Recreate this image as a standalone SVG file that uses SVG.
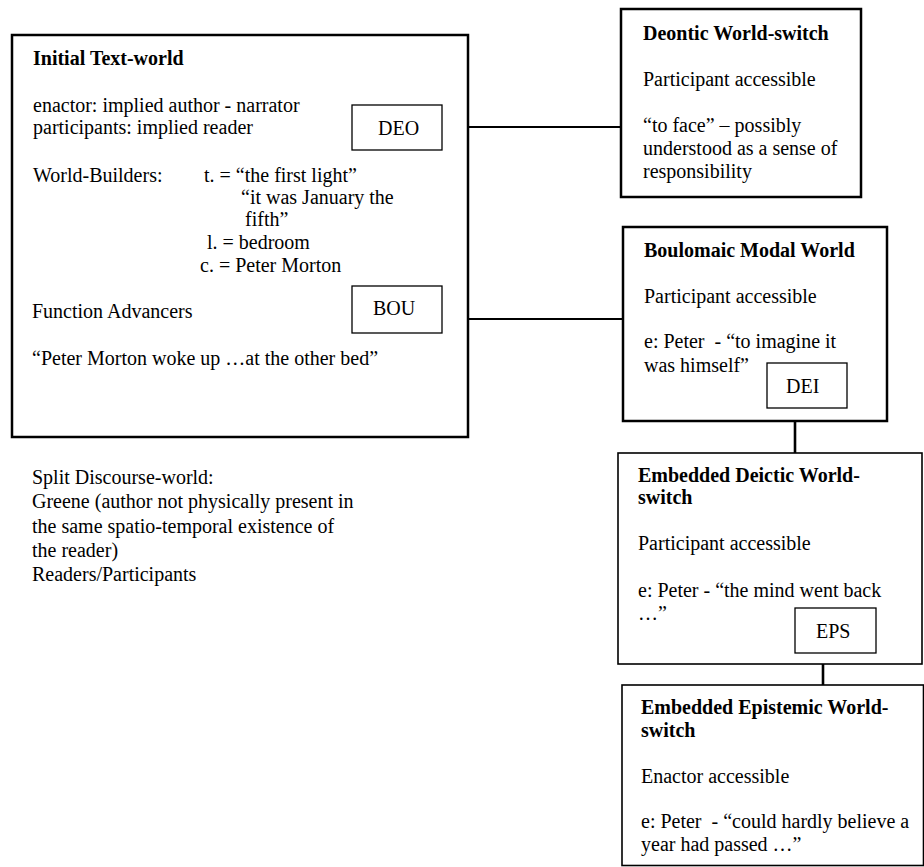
<svg xmlns="http://www.w3.org/2000/svg" width="924" height="867" viewBox="0 0 924 867">
  <style>
    text { font-family: "Liberation Serif", "Times New Roman", serif; font-size: 20px; fill: #000; }
    .b { font-weight: bold; }
    .world { fill: #fff; stroke: #000; stroke-width: 2.5; }
    .world-thin { fill: #fff; stroke: #000; stroke-width: 1.6; }
    .tag { fill: #fff; stroke: #000; stroke-width: 1.3; }
    .link { stroke: #000; stroke-width: 2; fill: none; }
    .link-v { stroke: #000; stroke-width: 2.6; fill: none; }
  </style>
  <rect width="924" height="867" fill="#fff"/>

  <!-- connectors between worlds -->
  <g id="connectors">
    <line class="link" x1="442" y1="127" x2="621" y2="127"/>
    <line class="link" x1="442" y1="319" x2="623" y2="319"/>
    <line class="link-v" x1="795" y1="408" x2="795" y2="453"/>
    <line class="link-v" x1="823" y1="653" x2="823" y2="685"/>
  </g>

  <!-- initial text-world -->
  <g id="initial-text-world">
    <rect class="world" x="12" y="35" width="456" height="402"/>
    <text class="b" x="33" y="65">Initial Text-world</text>
    <text x="33" y="112">enactor: implied author - narrator</text>
    <text x="33" y="134">participants: implied reader</text>
    <text x="33" y="182">World-Builders:</text>
    <text x="204" y="182">t. = “the first light”</text>
    <text x="241" y="204">“it was January the</text>
    <text x="245" y="226">fifth”</text>
    <text x="207" y="249">l. = bedroom</text>
    <text x="200" y="272">c. = Peter Morton</text>
    <text x="32" y="318">Function Advancers</text>
    <text x="32" y="365">“Peter Morton woke up …at the other bed”</text>
  </g>

  <g id="deo">
    <rect class="tag" x="352" y="105" width="90" height="45"/>
    <text x="378" y="135">DEO</text>
  </g>

  <g id="bou">
    <rect class="tag" x="352" y="286" width="90" height="47"/>
    <text x="373" y="315">BOU</text>
  </g>

  <!-- discourse-world note -->
  <g id="discourse-world">
    <text x="32" y="484">Split Discourse-world:</text>
    <text x="32" y="508">Greene (author not physically present in</text>
    <text x="32" y="533">the same spatio-temporal existence of</text>
    <text x="32" y="557">the reader)</text>
    <text x="32" y="581">Readers/Participants</text>
  </g>

  <g id="deontic-world-switch">
    <rect class="world" x="621" y="9" width="240" height="188"/>
    <text class="b" x="643" y="40">Deontic World-switch</text>
    <text x="643" y="86">Participant accessible</text>
    <text x="643" y="132">“to face” – possibly</text>
    <text x="643" y="155">understood as a sense of</text>
    <text x="643" y="178">responsibility</text>
  </g>

  <g id="boulomaic-modal-world">
    <rect class="world" x="623" y="227" width="264" height="194"/>
    <text class="b" x="644" y="257">Boulomaic Modal World</text>
    <text x="644" y="303">Participant accessible</text>
    <text x="644" y="348" xml:space="preserve">e: Peter  - “to imagine it</text>
    <text x="644" y="372">was himself”</text>
  </g>

  <g id="dei">
    <rect class="tag" x="767" y="363" width="80" height="45"/>
    <text x="786" y="393">DEI</text>
  </g>

  <g id="embedded-deictic-world-switch">
    <rect class="world-thin" x="618" y="453" width="304" height="211"/>
    <text class="b" x="638" y="482">Embedded Deictic World-</text>
    <text class="b" x="638" y="504">switch</text>
    <text x="638" y="550">Participant accessible</text>
    <text x="638" y="597">e: Peter - “the mind went back</text>
    <text x="638" y="620">…”</text>
  </g>

  <g id="eps">
    <rect class="tag" x="795" y="608" width="81" height="45"/>
    <text x="816" y="638">EPS</text>
  </g>

  <g id="embedded-epistemic-world-switch">
    <rect class="world-thin" x="622" y="685" width="301.5" height="180.5"/>
    <text class="b" x="641" y="714">Embedded Epistemic World-</text>
    <text class="b" x="641" y="737">switch</text>
    <text x="641" y="783">Enactor accessible</text>
    <text x="641" y="828" xml:space="preserve">e: Peter  - “could hardly believe a</text>
    <text x="641" y="851">year had passed …”</text>
  </g>
</svg>
